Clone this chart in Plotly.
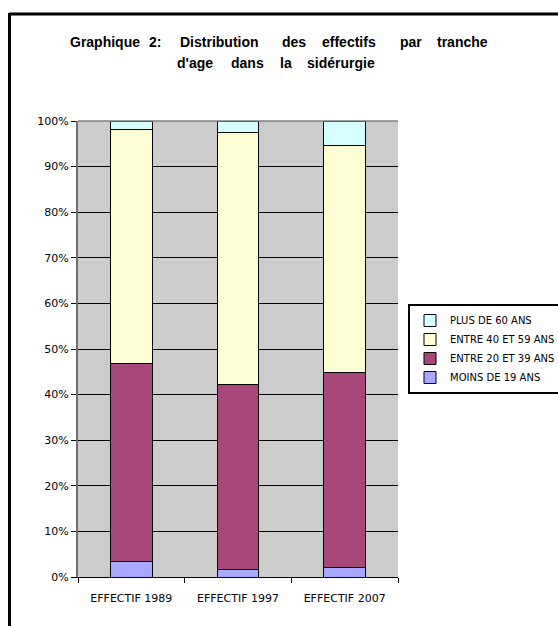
import plotly.graph_objects as go

categories = ["EFFECTIF 1989", "EFFECTIF 1997", "EFFECTIF 2007"]
moins_19 = [0.034, 0.016, 0.020]
entre_20_39 = [0.434, 0.407, 0.429]
entre_40_59 = [0.514, 0.551, 0.498]
plus_60 = [0.018, 0.026, 0.053]

series_names = ["MOINS DE 19 ANS", "ENTRE 20 ET 39 ANS", "ENTRE 40 ET 59 ANS", "PLUS DE 60 ANS"]
series_values = [moins_19, entre_20_39, entre_40_59, plus_60]
series_colors = ["#A8A8FF", "#A8487A", "#FFFFD6", "#D6FFFF"]

title_line1 = ["Graphique", "2:", "Distribution", "des", "effectifs", "par", "tranche"]
title_line2 = ["d'age", "dans", "la", "sidérurgie"]

W, H = 558, 626
L, R, T, B = 78, 398, 121, 577


def px_x(px):
    return (px - L) / (R - L)


def px_y(py):
    return (B - py) / (B - T)


fig = go.Figure()
for i, (name, vals, col) in enumerate(zip(series_names, series_values, series_colors)):
    fig.add_trace(go.Bar(
        x=categories, y=vals, name=name, legendgroup=f"g{i}",
        marker=dict(color=col, line=dict(color="black", width=1)),
    ))

title_font = dict(family="Liberation Sans", size=14, color="black", weight="bold")
annotations = []
line1_x = [68, 147, 178, 280, 320, 398, 435]
for w, x in zip(title_line1, line1_x):
    annotations.append(dict(text=w, x=px_x(x), y=px_y(42), xref="paper", yref="paper",
                            xanchor="left", yanchor="middle", showarrow=False, font=title_font))
line2_x = [175, 229, 278, 305]
for w, x in zip(title_line2, line2_x):
    annotations.append(dict(text=w, x=px_x(x), y=px_y(63), xref="paper", yref="paper",
                            xanchor="left", yanchor="middle", showarrow=False, font=title_font))

shapes = [
    dict(type="line", xref="paper", yref="paper", x0=px_x(9), x1=px_x(600), y0=px_y(14), y1=px_y(14),
         line=dict(color="black", width=3)),
    dict(type="line", xref="paper", yref="paper", x0=px_x(9.5), x1=px_x(9.5), y0=px_y(13), y1=px_y(700),
         line=dict(color="black", width=3)),
    dict(type="line", xref="paper", yref="paper", x0=0, x1=1, y0=1, y1=1,
         line=dict(color="#808080", width=1.5)),
]

fig.update_layout(
    width=W, height=H,
    margin=dict(l=L, r=W - R, t=T, b=H - B, autoexpand=False),
    paper_bgcolor="white", plot_bgcolor="#CCCCCC",
    barmode="stack", bargap=0.61,
    font=dict(family="DejaVu Sans", size=11, color="black"),
    showlegend=True,
    legend=dict(x=px_x(408), y=px_y(304), xanchor="left", yanchor="top",
                bordercolor="black", borderwidth=2, bgcolor="white",
                traceorder="reversed", tracegroupgap=6,
                font=dict(family="DejaVu Sans", size=10, color="black"),
                itemwidth=30),
    annotations=annotations,
    shapes=shapes,
)
fig.update_xaxes(showline=True, linecolor="black", linewidth=1, ticks="outside", tickson="boundaries",
                 ticklen=5, tickcolor="black", showgrid=False, ticklabelstandoff=11)
fig.update_yaxes(range=[0, 1], dtick=0.1, tickformat=".0%", showline=True, linecolor="#707070", linewidth=2,
                 mirror=False, ticks="outside", ticklen=5, tickcolor="black", showgrid=True,
                 gridcolor="black", gridwidth=1, zeroline=False)

fig.write_html("out.html")
